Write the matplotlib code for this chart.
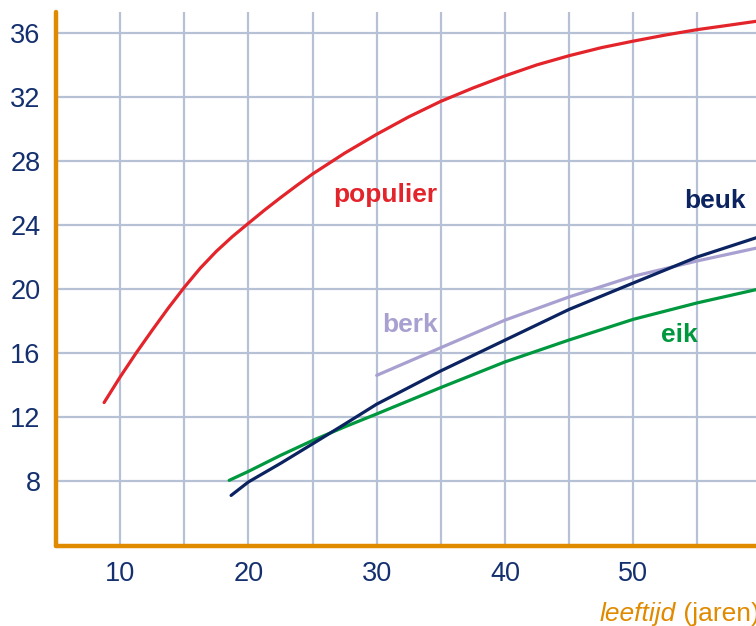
import matplotlib.pyplot as plt

# Tree height vs age
populier_x = [8.75, 10, 11.25, 12.5, 13.75, 15, 16.25, 17.5, 18.75, 20, 21.25, 22.5, 23.75,
              25, 27.5, 30, 32.5, 35, 37.5, 40, 42.5, 45, 47.5, 50, 52.5, 55, 57.5, 59.6]
populier_y = [12.9, 14.5, 16.0, 17.42, 18.8, 20.1, 21.3, 22.35, 23.27, 24.1, 24.92, 25.7, 26.45,
              27.18, 28.48, 29.66, 30.75, 31.72, 32.55, 33.31, 34.0, 34.57, 35.07, 35.48, 35.86,
              36.2, 36.48, 36.72]

beuk_x = [18.65, 20, 22.5, 25, 27.5, 30, 35, 40, 45, 50, 55, 59.6]
beuk_y = [7.1, 7.94, 9.1, 10.32, 11.55, 12.8, 14.88, 16.8, 18.72, 20.37, 22.0, 23.2]

eik_x = [18.5, 20, 22.5, 25, 27.5, 30, 35, 40, 45, 50, 55, 59.6]
eik_y = [8.04, 8.6, 9.6, 10.53, 11.38, 12.19, 13.84, 15.44, 16.81, 18.1, 19.13, 19.96]

berk_x = [30, 35, 40, 45, 50, 55, 59.6]
berk_y = [14.6, 16.33, 18.05, 19.5, 20.79, 21.75, 22.55]

x_ticks = [10, 20, 30, 40, 50]
x_grid = [15, 25, 35, 45, 55]
y_ticks = [8, 12, 16, 20, 24, 28, 32, 36]

red = '#E3242B'
navy = '#0B2360'
green = '#00983F'
lavender = '#A8A0D0'
orange = '#E08A00'
gridc = '#B7C1D5'
textc = '#14306E'

plt.rcParams['font.family'] = ['Liberation Sans', 'DejaVu Sans']

fig = plt.figure(figsize=(7.56, 6.26), dpi=100)
ax = fig.add_axes([56 / 756, 80 / 626, 700 / 756, 534 / 626])

# curves
ax.plot(populier_x, populier_y, color=red, lw=2.3, solid_capstyle='round',
        solid_joinstyle='round', zorder=3)
ax.plot(berk_x, berk_y, color=lavender, lw=2.3, solid_capstyle='round',
        solid_joinstyle='round', zorder=3)
ax.plot(eik_x, eik_y, color=green, lw=2.3, solid_capstyle='round',
        solid_joinstyle='round', zorder=3)
ax.plot(beuk_x, beuk_y, color=navy, lw=2.3, solid_capstyle='round',
        solid_joinstyle='round', zorder=4)

# series labels
lab = dict(fontsize=19, fontweight='bold', ha='center', va='baseline')
ax.text(30.7, 25.4, 'populier', color=red, **lab)
ax.text(56.4, 25.06, 'beuk', color=navy, **lab)
ax.text(32.6, 17.3, 'berk', color=lavender, **lab)
ax.text(53.6, 16.7, 'eik', color=green, **lab)

ax.set_xlim(5.0, 59.57)
ax.set_ylim(3.94, 37.3)

ax.set_xticks(x_ticks)
ax.set_xticks(x_grid, minor=True)
ax.set_yticks(y_ticks)
ax.grid(True, which='both', color=gridc, lw=1.6, zorder=1)
ax.set_axisbelow(True)

ax.tick_params(axis='both', which='both', length=0, labelsize=19.5, colors=textc)
ax.tick_params(axis='x', pad=11)
ax.tick_params(axis='y', pad=11)

for side in ['top', 'right']:
    ax.spines[side].set_visible(False)
for side in ['left', 'bottom']:
    ax.spines[side].set_color(orange)
    ax.spines[side].set_linewidth(3.2)
    ax.spines[side].set_capstyle('round')

# axis title, italic part followed by normal part (runs off the right edge as in the source)
t1 = fig.text(600 / 756, 5 / 626, 'leeftijd', color=orange, fontsize=19,
              fontstyle='italic', ha='left', va='baseline')
fig.canvas.draw()
ax.annotate(' (jaren)', xy=(1, 0), xycoords=t1, color=orange, fontsize=19,
            ha='left', va='bottom', annotation_clip=False)

fig.savefig('out.png', dpi=100)
